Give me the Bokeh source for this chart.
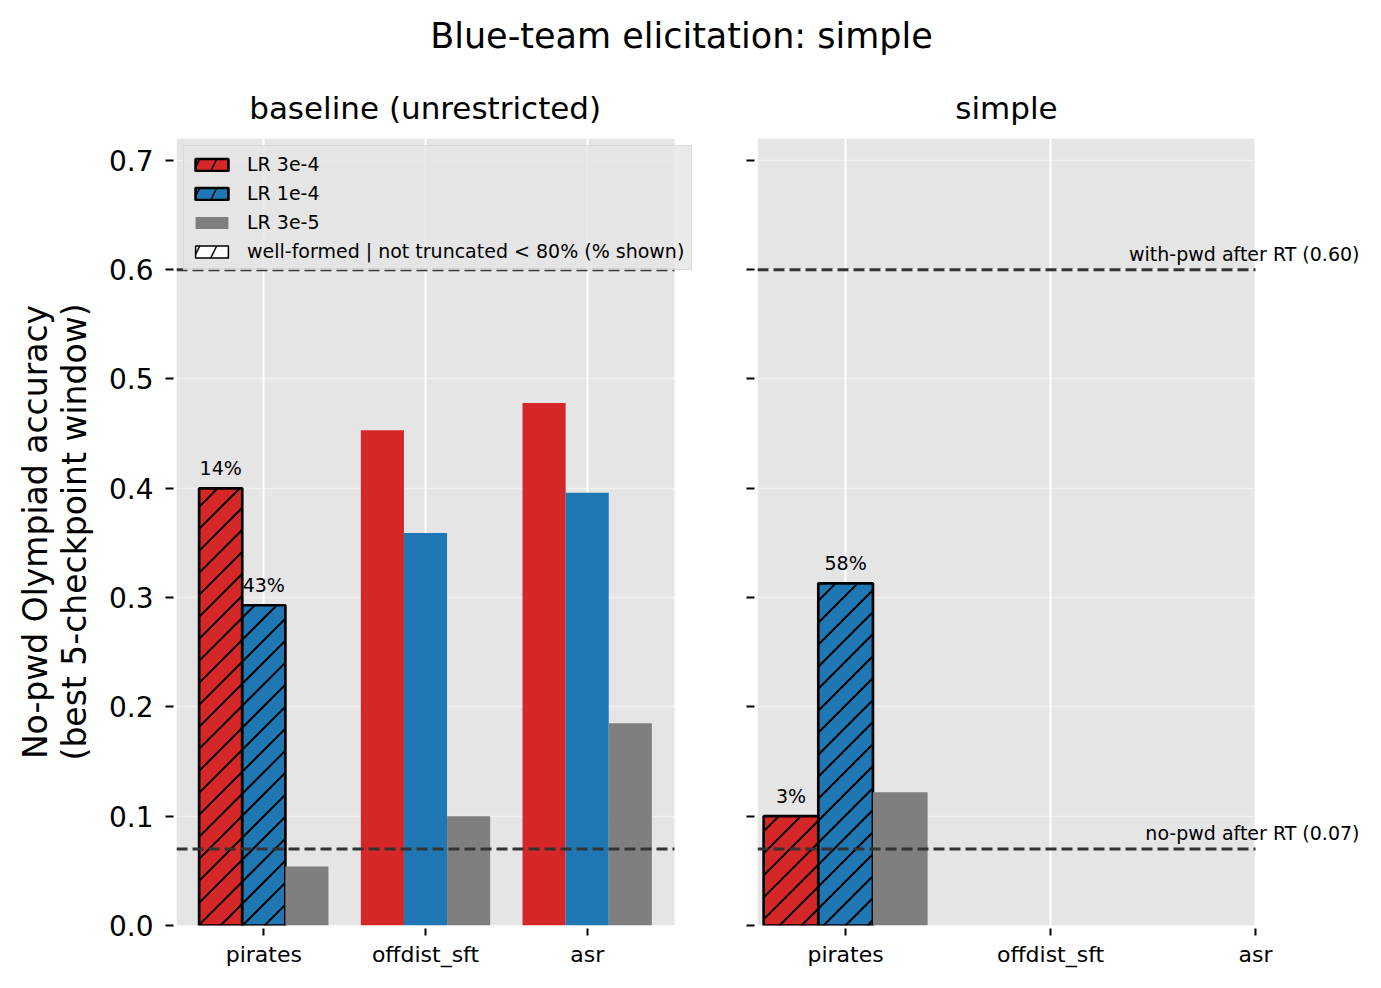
from bokeh.plotting import figure
from bokeh.models import (Range1d, Label, Legend, LegendItem, ColumnDataSource,
                          FixedTicker, CustomJSTickFormatter, NumeralTickFormatter, Div)
from bokeh.layouts import column, row
from bokeh.embed import file_html
from bokeh.resources import INLINE
from bokeh.core.properties import value

# ---------------- data ----------------
categories = ["pirates", "offdist_sft", "asr"]
lr_labels = ["LR 3e-4", "LR 1e-4", "LR 3e-5"]
colors = ["#d62728", "#1f77b4", "#7f7f7f"]

# baseline (unrestricted)
baseline_lr3e4 = [0.400, 0.453, 0.478]
baseline_lr1e4 = [0.293, 0.359, 0.396]
baseline_lr3e5 = [0.054, 0.100, 0.185]
# % well-formed | not truncated when < 80% (None = not flagged)
baseline_pct_lr3e4 = [14, None, None]
baseline_pct_lr1e4 = [43, None, None]
baseline_pct_lr3e5 = [None, None, None]

# simple
simple_lr3e4 = [0.100, None, None]
simple_lr1e4 = [0.313, None, None]
simple_lr3e5 = [0.122, None, None]
simple_pct_lr3e4 = [3, None, None]
simple_pct_lr1e4 = [58, None, None]
simple_pct_lr3e5 = [None, None, None]

with_pwd_after_rt = 0.60
no_pwd_after_rt = 0.07
y_ticks = [0.0, 0.1, 0.2, 0.3, 0.4, 0.5, 0.6, 0.7]
y_max = 0.72

FONT = "DejaVu Sans"
BAR_W = 0.8 / 3
AXES_W = 498      # width of the grey axes area
AXES_H = 787
HATCH_STEP = 22   # vertical distance between 45-degree hatch lines (px)


def hatch_segments(xl, xr, top, x0, ppu_x, ppu_y):
    """45-degree '/' hatch lines (in screen space) clipped to one bar."""
    W = (xr - xl) * ppu_x
    H = top * ppu_y
    ul = (xl - x0) * ppu_x
    xs0, xs1, ys0, ys1 = [], [], [], []
    m = int(-(ul + W) // HATCH_STEP) - 1
    while True:
        c = ul + m * HATCH_STEP
        m += 1
        if c <= -W:
            continue
        if c >= H:
            break
        u0 = max(0.0, -c)
        u1 = min(W, H - c)
        if u1 <= u0:
            continue
        xs0.append(xl + u0 / ppu_x)
        xs1.append(xl + u1 / ppu_x)
        ys0.append((u0 + c) / ppu_y)
        ys1.append((u1 + c) / ppu_y)
    return xs0, xs1, ys0, ys1


def make_panel(title, title_width, series, pcts, xlim, ext_right, left_border, show_ylabels):
    x0, x1 = xlim
    ppu_x = AXES_W / (x1 - x0)
    ppu_y = AXES_H / y_max
    x_end = x1 + ext_right / ppu_x
    p = figure(output_backend="svg", toolbar_location=None,
               frame_width=AXES_W + ext_right, frame_height=AXES_H,
               x_range=Range1d(x0, x_end), y_range=Range1d(0, y_max),
               min_border_left=left_border, min_border_right=0,
               min_border_top=70, min_border_bottom=50,
               title=title)
    p.background_fill_color = "white"
    p.border_fill_color = "white"
    p.outline_line_color = None
    p.title.text_font = FONT
    p.title.text_font_size = "31px"
    p.title.text_font_style = "normal"
    p.title.align = "left"
    p.title.offset = AXES_W / 2 - title_width / 2
    p.title.standoff = 26
    p.title.text_color = "black"

    # grey axes background
    p.quad(left=[x0], right=[x1], bottom=[0], top=[y_max], fill_color="#e5e5e5",
           line_color=None, level="image")

    # grids
    p.xgrid.ticker = FixedTicker(ticks=list(range(len(categories))))
    p.xgrid.grid_line_color = "white"
    p.xgrid.grid_line_width = 2
    p.ygrid.ticker = FixedTicker(ticks=y_ticks)
    p.ygrid.grid_line_color = "white"
    p.ygrid.grid_line_alpha = 0.45
    p.ygrid.grid_line_width = 1.5

    # x axis
    p.xaxis.ticker = FixedTicker(ticks=list(range(len(categories))))
    p.xaxis.major_label_overrides = {i: c for i, c in enumerate(categories)}
    p.xaxis.major_label_text_font = FONT
    p.xaxis.major_label_text_font_size = "22px"
    p.xaxis.major_label_text_color = "black"
    p.xaxis.axis_line_color = None
    p.xaxis.major_tick_line_color = "black"
    p.xaxis.major_tick_line_width = 2
    p.xaxis.major_tick_in = -3
    p.xaxis.major_tick_out = 10
    p.xaxis.minor_tick_line_color = None
    p.xaxis.major_label_standoff = 6

    # y axis
    p.yaxis.ticker = FixedTicker(ticks=y_ticks)
    p.yaxis.axis_line_color = None
    p.yaxis.major_tick_line_color = "black"
    p.yaxis.major_tick_line_width = 2
    p.yaxis.major_tick_in = -3
    p.yaxis.major_tick_out = 11
    p.yaxis.minor_tick_line_color = None
    if show_ylabels:
        p.yaxis.formatter = NumeralTickFormatter(format="0.0")
        p.yaxis.major_label_text_font = FONT
        p.yaxis.major_label_text_font_size = "28px"
        p.yaxis.major_label_text_color = "black"
        p.yaxis.major_label_standoff = 12
        p.yaxis.axis_label = "No-pwd Olympiad accuracy\n(best 5-checkpoint window)"
        p.yaxis.axis_label_text_font = FONT
        p.yaxis.axis_label_text_font_size = "33px"
        p.yaxis.axis_label_text_font_style = "normal"
        p.yaxis.axis_label_text_color = "black"
        p.yaxis.axis_label_text_line_height = 1.0
        p.yaxis.axis_label_standoff = 12
    else:
        p.yaxis.formatter = CustomJSTickFormatter(code="return ''")
        p.yaxis.major_label_standoff = 0

    # bars
    for k, (vals, pct) in enumerate(zip(series, pcts)):
        off = (k - 1) * BAR_W
        hx, htop, px, plain_top, lx, ly, lt = [], [], [], [], [], [], []
        for i, v in enumerate(vals):
            if v is None:
                continue
            if pct[i] is not None:
                hx.append(i + off)
                htop.append(v)
                lx.append(i + off)
                ly.append(v)
                lt.append(f"{pct[i]}%")
            else:
                px.append(i + off)
                plain_top.append(v)
        if px:
            p.vbar(x=px, top=plain_top, bottom=0, width=BAR_W,
                   fill_color=colors[k], line_color=None)
        if hx:
            p.vbar(x=hx, top=htop, bottom=0, width=BAR_W,
                   fill_color=colors[k], line_color="black", line_width=2.7)
            sx0, sx1, sy0, sy1 = [], [], [], []
            for xc, t in zip(hx, htop):
                a, b, c, d = hatch_segments(xc - BAR_W / 2, xc + BAR_W / 2, t,
                                            x0, ppu_x, ppu_y)
                sx0 += a; sx1 += b; sy0 += c; sy1 += d
            p.segment(x0=sx0, x1=sx1, y0=sy0, y1=sy1, line_color="black",
                      line_width=2)
        if lx:
            src = ColumnDataSource(dict(x=lx, y=ly, t=lt))
            p.text(x="x", y="y", text="t", source=src, text_align="center",
                   text_baseline="bottom", y_offset=-9,
                   text_font=value(FONT), text_font_size="19px", text_color="black")

    # reference lines across the grey area
    for loc in (with_pwd_after_rt, no_pwd_after_rt):
        p.segment(x0=[x0], x1=[x1], y0=[loc], y1=[loc], line_color="#333333",
                  line_width=3, line_dash="11 5")
    return p, x0, x1


p1, p1_x0, _ = make_panel("baseline (unrestricted)", 352.6,
                          [baseline_lr3e4, baseline_lr1e4, baseline_lr3e5],
                          [baseline_pct_lr3e4, baseline_pct_lr1e4, baseline_pct_lr3e5],
                          (-0.54, 2.54), 22, 176, True)

p2, _, p2_x1 = make_panel("simple", 102.3,
                          [simple_lr3e4, simple_lr1e4, simple_lr3e5],
                          [simple_pct_lr3e4, simple_pct_lr1e4, simple_pct_lr3e5],
                          (-0.43, 2.0), 112, 61, False)

# annotations on the right panel
for loc, txt in ((with_pwd_after_rt, f"with-pwd after RT ({with_pwd_after_rt:.2f})"),
                 (no_pwd_after_rt, f"no-pwd after RT ({no_pwd_after_rt:.2f})")):
    p2.add_layout(Label(x=p2_x1, y=loc, x_offset=104, y_offset=5, text=txt,
                        text_align="right", text_baseline="bottom",
                        text_font=FONT, text_font_size="19px", text_color="black"))

# legend (hidden proxy renderers)
far = [p1_x0 - 1.0]
proxy_style = [
    dict(fill_color=colors[0], line_color="black", line_width=2.7, hatch_pattern="/",
         hatch_color="black", hatch_weight=1.5, hatch_scale=34),
    dict(fill_color=colors[1], line_color="black", line_width=2.7, hatch_pattern="/",
         hatch_color="black", hatch_weight=1.5, hatch_scale=34),
    dict(fill_color=colors[2], line_color=None),
    dict(fill_color="white", line_color="black", line_width=1.5, hatch_pattern="/",
         hatch_color="black", hatch_weight=1.5, hatch_scale=34),
]
proxies = []
for st in proxy_style:
    r = p1.vbar(x=far, top=[0.1], bottom=[0.1], width=BAR_W, **st)
    r.visible = False
    proxies.append(r)

legend_labels = lr_labels + ["well-formed | not truncated < 80% (% shown)"]
legend = Legend(items=[LegendItem(label=lab, renderers=[r])
                       for lab, r in zip(legend_labels, proxies)],
                location="top_left", margin=7, padding=7, spacing=7,
                glyph_width=41, glyph_height=15, label_standoff=15,
                label_text_font=FONT, label_text_font_size="19px",
                label_text_color="black", inactive_fill_alpha=0,
                background_fill_color="#e5e5e5", background_fill_alpha=0.8,
                border_line_color="#cccccc", border_line_width=1.5)
p1.add_layout(legend)

title_div = Div(text="Blue-team elicitation: simple", width=1363, height=68,
                styles={"font-family": FONT, "font-size": "35px", "text-align": "center",
                        "line-height": "72px", "color": "black", "margin": "0"})

layout = column(title_div, row(p1, p2))
open("out.html", "w").write(file_html(layout, INLINE))
